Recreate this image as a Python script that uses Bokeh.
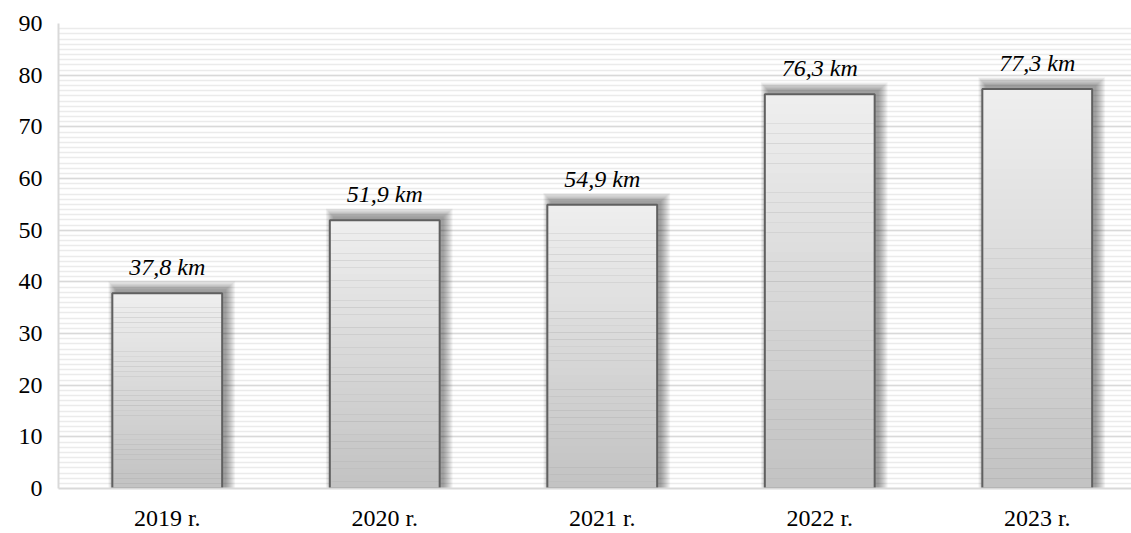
from bokeh.plotting import figure
from bokeh.models import ColumnDataSource, FixedTicker, Range1d
from bokeh.embed import file_html
from bokeh.resources import INLINE
from bokeh.core.properties import value

years = ["2019 r.", "2020 r.", "2021 r.", "2022 r.", "2023 r."]
lengths = [37.8, 51.9, 54.9, 76.3, 77.3]
labels = ["37,8 km", "51,9 km", "54,9 km", "76,3 km", "77,3 km"]
y_ticks = [0, 10, 20, 30, 40, 50, 60, 70, 80, 90]

FONT = "Liberation Serif"
W = 1131
H = 533
LEFT = 58
TOP = 23
BOTTOM = 42
frame_w = W - LEFT
frame_h = H - TOP - BOTTOM
step = 217.5

p = figure(width=W, height=H, output_backend="svg", toolbar_location=None,
           x_range=Range1d(0.5, 0.5 + frame_w / step), y_range=Range1d(0, 90),
           min_border_left=LEFT, min_border_right=0, min_border_top=TOP, min_border_bottom=BOTTOM)
p.outline_line_color = None
p.background_fill_color = "white"

# grid
p.ygrid.ticker = FixedTicker(ticks=y_ticks, minor_ticks=list(range(0, 91)))
p.ygrid.grid_line_color = "#d9d9d9"
p.ygrid.grid_line_width = 1.5
p.ygrid.minor_grid_line_color = "#ebebeb"
p.ygrid.minor_grid_line_width = 1.5
p.xgrid.grid_line_color = None

# axes
p.yaxis.ticker = FixedTicker(ticks=y_ticks)
p.yaxis.axis_line_color = "#d9d9d9"
p.yaxis.axis_line_width = 2
p.yaxis.major_tick_line_color = None
p.yaxis.minor_tick_line_color = None
p.yaxis.major_label_text_font = FONT
p.yaxis.major_label_text_font_size = "24px"
p.yaxis.major_label_text_color = "#000000"
p.yaxis.major_label_standoff = 10

xs = list(range(1, len(years) + 1))
p.xaxis.ticker = FixedTicker(ticks=xs)
p.xaxis.major_label_overrides = {x: y for x, y in zip(xs, years)}
p.xaxis.axis_line_color = "#d9d9d9"
p.xaxis.axis_line_width = 2
p.xaxis.major_tick_line_color = None
p.xaxis.minor_tick_line_color = None
p.xaxis.major_label_text_font = FONT
p.xaxis.major_label_text_font_size = "24px"
p.xaxis.major_label_text_color = "#000000"
p.xaxis.major_label_standoff = 10

bw = 0.505
px_x = 1 / step
px_y = 90 / frame_h

# shadow: layered translucent rectangles offset up/right
for i in range(10, 0, -1):
    src = ColumnDataSource(dict(
        left=[x - bw / 2 + (4 - i * 0.8) * px_x for x in xs],
        right=[x + bw / 2 + (3 + i) * px_x for x in xs],
        top=[v + (3 + i * 0.9) * px_y for v in lengths],
        bottom=[0 for _ in xs]))
    p.quad(left="left", right="right", top="top", bottom="bottom", source=src,
           fill_color="#000000", fill_alpha=0.045, line_color=None)

# gradient bars from strips
N = 40
lefts, rights, tops, bottoms, colors = [], [], [], [], []
for x, v in zip(xs, lengths):
    for k in range(N):
        f0 = k / N
        f1 = (k + 1) / N
        t = (f0 + f1) / 2  # 0 bottom, 1 top
        c = int(round(0xc2 + (0xef - 0xc2) * t))
        lefts.append(x - bw / 2)
        rights.append(x + bw / 2)
        bottoms.append(v * f0)
        tops.append(v * f1 + 0.01)
        colors.append("#%02x%02x%02x" % (c, c, c))
gsrc = ColumnDataSource(dict(left=lefts, right=rights, top=tops, bottom=bottoms, color=colors))
p.quad(left="left", right="right", top="top", bottom="bottom", source=gsrc,
       fill_color="color", line_color=None)

# outline
bsrc = ColumnDataSource(dict(x=xs, top=lengths, label=labels))
p.vbar(x="x", top="top", width=bw, source=bsrc, fill_color=None,
       line_color="#606060", line_width=2)

p.text(x="x", y="top", text="label", source=bsrc, text_align="center",
       text_baseline="alphabetic", y_offset=-26, text_font=value(FONT),
       text_font_style="italic", text_font_size="24px", text_color="#000000")

open("out.html", "w").write(file_html(p, INLINE))
